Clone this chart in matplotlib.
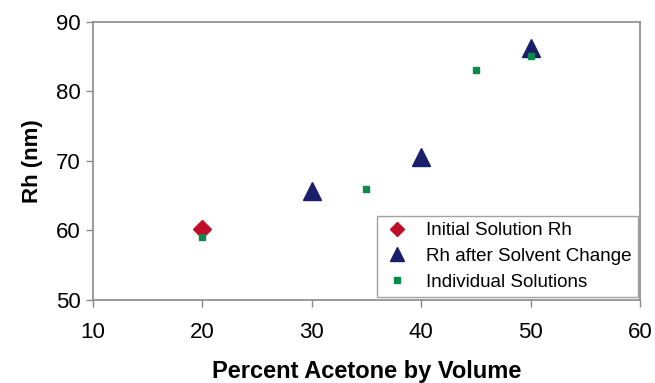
import matplotlib
matplotlib.use('Agg')
import matplotlib.pyplot as plt

plt.rcParams['font.family'] = ['Liberation Sans', 'DejaVu Sans']

# Данные
initial_x = [20]
initial_y = [60.2]
after_x = [30, 40, 50]
after_y = [65.7, 70.6, 86.3]
indiv_x = [20, 35, 45, 50]
indiv_y = [59.0, 66.0, 83.1, 85.1]

fig = plt.figure(figsize=(6.55, 3.83), dpi=100)
ax = fig.add_axes([0.142, 0.217, 0.835, 0.726])

ax.plot(initial_x, initial_y, linestyle='none', marker='D', ms=9,
        color='#C00D2A', label='Initial Solution Rh')
ax.plot(after_x, after_y, linestyle='none', marker='^', ms=13,
        color='#1A1F6B', label='Rh after Solvent Change')
ax.plot(indiv_x, indiv_y, linestyle='none', marker='s', ms=5,
        color='#0B8A4B', label='Individual Solutions')

ax.set_xlim(10, 60)
ax.set_ylim(50, 90)
ax.set_xticks([10, 20, 30, 40, 50, 60])
ax.set_yticks([50, 60, 70, 80, 90])

for s in ax.spines.values():
    s.set_color('#8a8a8a')
    s.set_linewidth(1.2)

ax.tick_params(direction='out', length=5, width=1, color='#8a8a8a',
               labelsize=16, pad=6)
ax.tick_params(axis='x', pad=11)
ax.tick_params(axis='y', pad=4)

ax.set_xlabel('Percent Acetone by Volume', fontsize=17, fontweight='bold', labelpad=12)
ax.set_ylabel('Rh (nm)', fontsize=16, fontweight='bold', labelpad=9)

leg = ax.legend(loc='lower right', bbox_to_anchor=(0.997, 0.01), fontsize=13.5,
                frameon=True, fancybox=False, borderpad=0.35, handlelength=1.5,
                handletextpad=0.8, labelspacing=0.45, borderaxespad=0,
                markerscale=0.75)
leg.get_frame().set_edgecolor('#8a8a8a')
leg.get_frame().set_linewidth(1.0)

plt.savefig('out.png', dpi=100)
plt.close(fig)
